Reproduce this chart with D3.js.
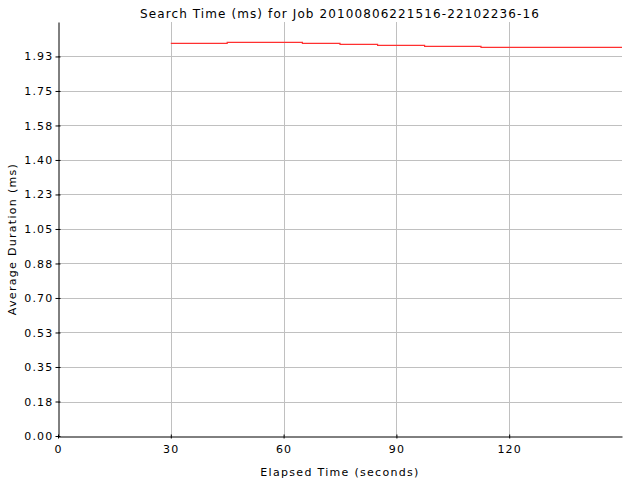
<!DOCTYPE html>
<html>
<head>
<meta charset="utf-8">
<script src="https://cdn.jsdelivr.net/npm/d3@7"></script>
<style>
  body { margin: 0; background: #fff; }
  text { font-family: "DejaVu Sans", sans-serif; font-size: 11px; fill: #000; letter-spacing: 1.2px; }
</style>
</head>
<body>
<svg id="chart"></svg>
<script>
// step data
const elapsed = [30, 45, 65, 75, 85, 97.5, 112.5, 150];
const avgDuration = [1.996, 2.001, 1.996, 1.991, 1.986, 1.981, 1.976, 1.976];
const xTicks = [0, 30, 60, 90, 120];
const yTicks = [0, 0.1754, 0.3509, 0.5263, 0.7018, 0.8772, 1.0526, 1.2281, 1.4035, 1.5789, 1.7544, 1.9298];

const width = 640, height = 480;
const margin = {top: 22, right: 18, bottom: 44, left: 58};

const svg = d3.select("#chart").attr("width", width).attr("height", height);

const x = d3.scaleLinear().domain([0, 150]).range([margin.left, width - margin.right]);
const y = d3.scaleLinear().domain([0, 2.105]).range([height - margin.bottom, margin.top]);

// grid lines
svg.append("g").selectAll("line").data(yTicks.slice(1)).enter().append("line")
   .attr("x1", margin.left).attr("x2", width - margin.right)
   .attr("y1", d => Math.round(y(d)) + 0.5).attr("y2", d => Math.round(y(d)) + 0.5)
   .attr("stroke", "#c0c0c0");
svg.append("g").selectAll("line").data(xTicks.slice(1)).enter().append("line")
   .attr("y1", margin.top).attr("y2", height - margin.bottom)
   .attr("x1", d => Math.round(x(d)) + 0.5).attr("x2", d => Math.round(x(d)) + 0.5)
   .attr("stroke", "#c0c0c0");

// the step line
const line = d3.line().x((d, i) => x(elapsed[i])).y(d => y(d)).curve(d3.curveStepAfter);
svg.append("path").datum(avgDuration)
   .attr("d", line)
   .attr("fill", "none")
   .attr("stroke", "#ff3030")
   .attr("stroke-width", 1.2);

// axes
const xAxis = svg.append("g")
   .attr("transform", `translate(0,${Math.round(y(0)) + 0.5})`)
   .call(d3.axisBottom(x).tickValues(xTicks).tickSize(2).tickSizeOuter(0).tickPadding(7));
const yAxis = svg.append("g")
   .attr("transform", `translate(${Math.round(x(0)) + 0.5},0)`)
   .call(d3.axisLeft(y).tickValues(yTicks).tickFormat(d3.format(".2f")).tickSize(3).tickSizeOuter(0).tickPadding(2));

[xAxis, yAxis].forEach(g => {
  g.selectAll("text").style("font-family", "DejaVu Sans, sans-serif").style("font-size", "11px").attr("fill", "#000");
  g.select(".domain").attr("stroke", "#000");
  g.selectAll(".tick line").attr("stroke", "#000");
});
xAxis.selectAll(".tick line").attr("y1", -2).attr("y2", 2);
yAxis.selectAll(".tick line").attr("x1", -3).attr("x2", 2);

// titles
svg.append("text").attr("x", (margin.left + width - margin.right) / 2).attr("y", 18)
   .attr("text-anchor", "middle").style("font-size", "12px").style("letter-spacing", "1.1px")
   .text("Search Time (ms) for Job 20100806221516-22102236-16");
svg.append("text").attr("x", (margin.left + width - margin.right) / 2).attr("y", 476)
   .attr("text-anchor", "middle").style("letter-spacing", "1.3px").text("Elapsed Time (seconds)");
svg.append("text").attr("transform", `translate(16,239) rotate(-90)`)
   .attr("text-anchor", "middle").style("letter-spacing", "1.3px").text("Average Duration (ms)");
</script>
</body>
</html>
